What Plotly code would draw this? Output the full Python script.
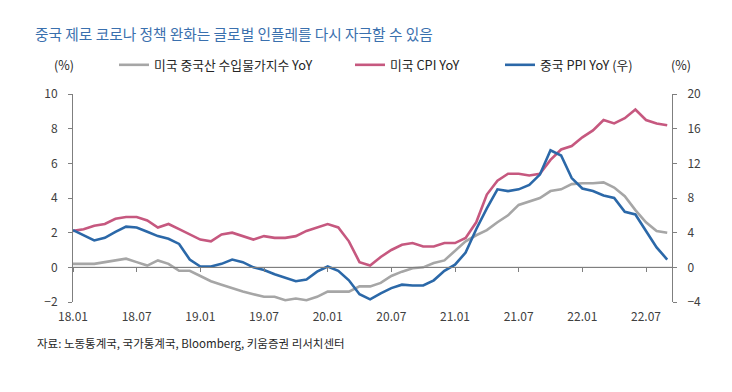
import plotly.graph_objects as go

# ---- data ----
months = [f"{y:02d}.{m:02d}" for y in range(18, 23) for m in range(1, 13)][:57]  # 18.01 .. 22.09
tick_labels = ["18.01", "18.07", "19.01", "19.07", "20.01", "20.07", "21.01", "21.07", "22.01", "22.07"]

us_import_china = [
    0.2, 0.2, 0.2, 0.3, 0.4, 0.5, 0.3, 0.1, 0.4, 0.2, -0.2, -0.2,
    -0.5, -0.8, -1.0, -1.2, -1.4, -1.55, -1.7, -1.7, -1.9, -1.8, -1.9, -1.7,
    -1.4, -1.4, -1.4, -1.1, -1.1, -0.9, -0.5, -0.25, -0.05, 0.0, 0.25, 0.4,
    0.95, 1.5, 1.85, 2.15, 2.6, 3.0, 3.6, 3.8, 4.0, 4.4, 4.5, 4.8,
    4.85, 4.85, 4.9, 4.6, 4.1, 3.3, 2.6, 2.1, 2.0,
]
us_cpi = [
    2.1, 2.2, 2.4, 2.5, 2.8, 2.9, 2.9, 2.7, 2.3, 2.5, 2.2, 1.9,
    1.6, 1.5, 1.9, 2.0, 1.8, 1.6, 1.8, 1.7, 1.7, 1.8, 2.1, 2.3,
    2.5, 2.3, 1.5, 0.3, 0.1, 0.6, 1.0, 1.3, 1.4, 1.2, 1.2, 1.4,
    1.4, 1.7, 2.6, 4.2, 5.0, 5.4, 5.4, 5.3, 5.4, 6.2, 6.8, 7.0,
    7.5, 7.9, 8.5, 8.3, 8.6, 9.1, 8.5, 8.3, 8.2,
]
china_ppi = [
    4.3, 3.7, 3.1, 3.4, 4.1, 4.7, 4.6, 4.1, 3.6, 3.3, 2.7, 0.9,
    0.1, 0.1, 0.4, 0.9, 0.6, 0.0, -0.3, -0.8, -1.2, -1.6, -1.4, -0.5,
    0.1, -0.4, -1.5, -3.1, -3.7, -3.0, -2.4, -2.0, -2.1, -2.1, -1.5, -0.4,
    0.3, 1.7, 4.4, 6.8, 9.0, 8.8, 9.0, 9.5, 10.7, 13.5, 12.9, 10.3,
    9.1, 8.8, 8.3, 8.0, 6.4, 6.1, 4.2, 2.3, 0.9,
]

x_idx = list(range(len(months)))
tick_idx = [months.index(t) for t in tick_labels]

FONT = "Noto Sans CJK KR"
TXT = "#404040"
AXIS = "#7f7f7f"
W, H = 732, 392
L, R, T, B = 72.5, 672.5, 94, 301.7

fig = go.Figure()
fig.add_trace(go.Scatter(x=x_idx, y=us_import_china, name="미국 중국산 수입물가지수 YoY",
                         mode="lines", line=dict(color="#A6A6A6", width=2.6), yaxis="y",
                         legend="legend"))
fig.add_trace(go.Scatter(x=x_idx, y=us_cpi, name="미국 CPI YoY",
                         mode="lines", line=dict(color="#C6587F", width=2.6), yaxis="y",
                         legend="legend2"))
fig.add_trace(go.Scatter(x=x_idx, y=china_ppi, name="중국 PPI YoY (우)",
                         mode="lines", line=dict(color="#2B68A8", width=2.6), yaxis="y2",
                         legend="legend3"))


def leg(xpx):
    return dict(orientation="h", xref="container", yref="container",
                x=xpx / W, xanchor="left", y=1 - 65 / H, yanchor="middle",
                font=dict(family=FONT, size=12.8, color="#262626"),
                bgcolor="rgba(0,0,0,0)", itemwidth=30)


xr = [0, 56.45]
fig.update_layout(
    width=W, height=H,
    margin=dict(l=L, r=W - R, t=T, b=H - B, autoexpand=False),
    plot_bgcolor="white", paper_bgcolor="white",
    font=dict(family=FONT, size=12, color=TXT),
    title=dict(text="중국 제로 코로나 정책 완화는 글로벌 인플레를 다시 자극할 수 있음",
               x=35 / W, xanchor="left", xref="container",
               y=1 - 35 / H, yanchor="middle", yref="container",
               font=dict(family=FONT, size=14.7, color="#3A70AE")),
    showlegend=True,
    legend=leg(114), legend2=leg(350), legend3=leg(500),
    xaxis=dict(range=xr, anchor="free", position=2 / 12, showline=True, linecolor=AXIS,
               linewidth=1, ticks="outside", ticklen=4, tickcolor=AXIS,
               tickmode="array", tickvals=tick_idx, showticklabels=False,
               showgrid=False, zeroline=False),
    xaxis2=dict(range=xr, overlaying="x", anchor="y", side="bottom", showline=False,
                ticks="", tickmode="array", tickvals=tick_idx, ticktext=tick_labels,
                showgrid=False, zeroline=False, ticklabelstandoff=6,
                tickfont=dict(family=FONT, size=12, color=TXT)),
    yaxis=dict(range=[-2, 10], dtick=2, showline=True, linecolor=AXIS, linewidth=1,
               ticks="outside", ticklen=4, tickcolor=AXIS, showgrid=False,
               zeroline=False, ticklabelstandoff=8,
               tickfont=dict(family=FONT, size=12, color=TXT)),
    yaxis2=dict(range=[-4, 20], dtick=4, overlaying="y", side="right", showline=True,
                linecolor=AXIS, linewidth=1, ticks="outside", ticklen=4, tickcolor=AXIS,
                showgrid=False, zeroline=False, ticklabelstandoff=8,
                tickfont=dict(family=FONT, size=12, color=TXT)),
)
# invisible trace to activate xaxis2 labels
fig.add_trace(go.Scatter(x=[None], y=[None], xaxis="x2", showlegend=False, hoverinfo="skip"))

# zero line across the plot (left axis 0)
fig.add_hline(y=0, line=dict(color=AXIS, width=1), layer="below")

PW, PH = R - L, B - T
fig.add_annotation(text="(%)", xref="paper", yref="paper", x=(63 - L) / PW,
                   y=(B - 65) / PH, showarrow=False, xanchor="center", yanchor="middle",
                   font=dict(family=FONT, size=12.5, color="#262626"))
fig.add_annotation(text="(%)", xref="paper", yref="paper", x=(682 - L) / PW,
                   y=(B - 65) / PH, showarrow=False, xanchor="center", yanchor="middle",
                   font=dict(family=FONT, size=12.5, color="#262626"))
fig.add_annotation(text="자료: 노동통계국, 국가통계국, Bloomberg, 키움증권 리서치센터",
                   xref="paper", yref="paper", x=(34 - L) / PW, y=(B - 343) / PH,
                   showarrow=False, xanchor="left", yanchor="middle",
                   font=dict(family=FONT, size=11.5, color="#262626"))

fig.write_html("out.html", config={"displayModeBar": False},
               post_script="document.body.style.margin='0px';")
